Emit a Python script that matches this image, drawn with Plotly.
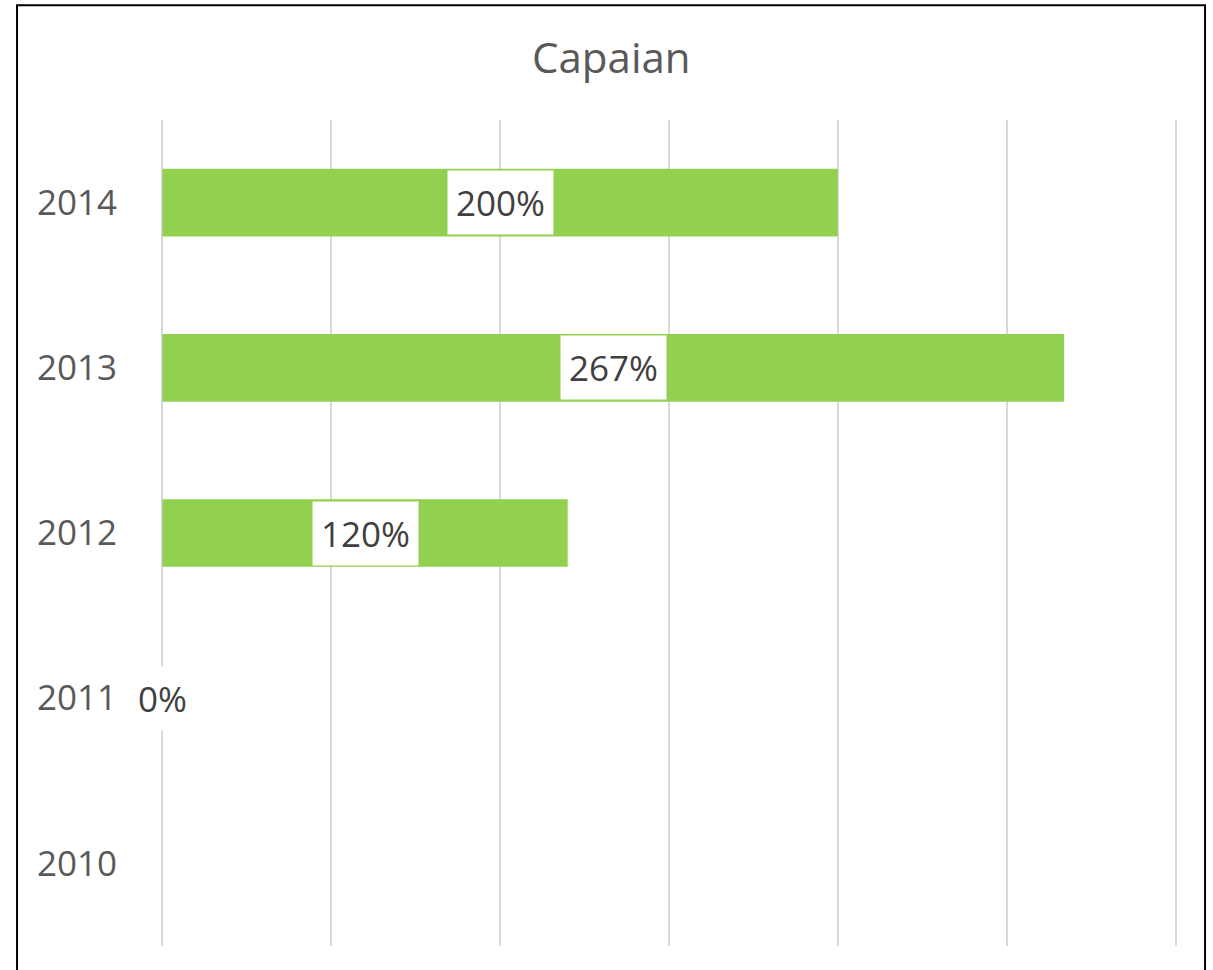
import plotly.graph_objects as go

years = ["2010", "2011", "2012", "2013", "2014"]
values = [None, 0, 120, 267, 200]
labels = ["", "0%", "120%", "267%", "200%"]

FONT = "Open Sans"
fig = go.Figure()
fig.add_trace(go.Bar(
    y=years, x=values, orientation="h",
    marker=dict(color="#92d050", line=dict(width=0)),
    hoverinfo="skip",
))
for i, (v, lab) in enumerate(zip(values, labels)):
    if v is None or not lab:
        continue
    # category axis: annotation position given by category index
    fig.add_annotation(x=v / 2, y=i, xref="x", yref="y", text=lab, showarrow=False,
                       bgcolor="white", borderpad=8,
                       font=dict(family=FONT, size=35, color="#404040"))

fig.update_layout(
    width=1213, height=970,
    margin=dict(l=161, r=36, t=120, b=24),
    paper_bgcolor="white", plot_bgcolor="white",
    bargap=0.59, showlegend=False,
    title=dict(text="Capaian", x=0.504, xanchor="center", xref="container",
               y=0.94, yanchor="middle",
               font=dict(family=FONT, size=42, color="#595959")),
    xaxis=dict(range=[-0.4, 300.4], tickvals=[0, 50, 100, 150, 200, 250, 300],
               showticklabels=False,
               showgrid=True, gridcolor="#d9d9d9", gridwidth=2,
               zeroline=False, showline=False),
    yaxis=dict(type="category", categoryorder="array", categoryarray=years,
               range=[-0.5, len(years) - 0.5],
               showgrid=False, zeroline=False, showline=False,
               ticks="outside", ticklen=36, tickcolor="rgba(0,0,0,0)",
               tickfont=dict(family=FONT, size=35, color="#595959")),
    shapes=[dict(type="rect", xref="paper", yref="paper",
                 x0=-0.1417, x1=1.0276, y0=-0.2, y1=1.139,
                 line=dict(color="black", width=2), fillcolor="rgba(0,0,0,0)",
                 layer="above")],
)
fig.write_html("out.html", config={"displayModeBar": False},
               post_script="document.body.style.margin='0';document.body.style.overflow='hidden';")
